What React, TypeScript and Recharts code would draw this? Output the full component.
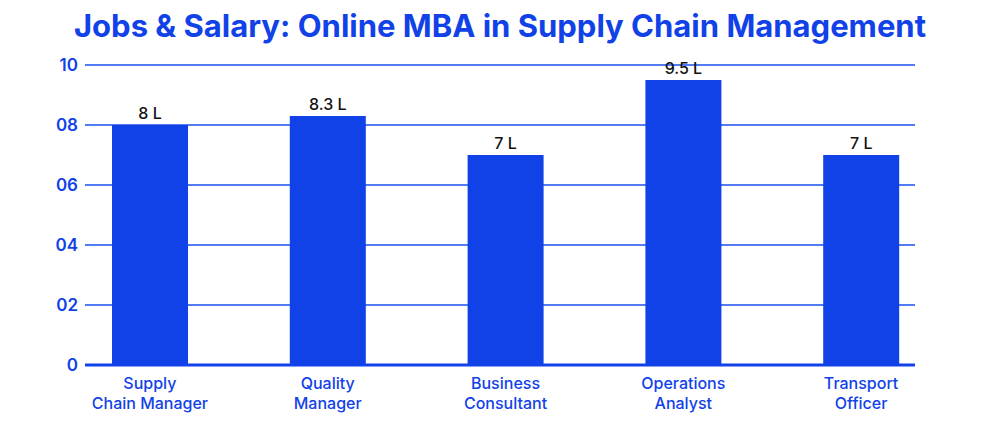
import { BarChart, Bar, CartesianGrid, XAxis, YAxis, LabelList } from 'recharts'

const jobs = ['Supply\nChain Manager', 'Quality\nManager', 'Business\nConsultant', 'Operations\nAnalyst', 'Transport\nOfficer']
const salary = [8, 8.3, 7, 9.5, 7]
const salaryLabels = ['8 L', '8.3 L', '7 L', '9.5 L', '7 L']
const yTicks = [0, 2, 4, 6, 8, 10]

const data = jobs.map((job, i) => ({ job, salary: salary[i], label: salaryLabels[i] }))

const BLUE = '#1142e8'
const GRID = '#1a4ff0'
const FONT = 'Inter, "Open Sans", sans-serif'

function JobTick({ x, y, payload }: any) {
  const lines = String(payload.value).split('\n')
  return (
    <text x={x} y={y} textAnchor="middle" fill={BLUE} fontSize={16} fontWeight={500} fontFamily={FONT}>
      {lines.map((l, i) => (
        <tspan key={i} x={x} dy={i === 0 ? 24 : 20}>{l}</tspan>
      ))}
    </text>
  )
}

export default function App() {
  return (
    <div style={{ position: 'absolute', left: 0, top: 0, width: 1000, height: 429, background: '#fff' }}>
      <div
        style={{
          position: 'absolute', left: 0, top: 7, width: 1000, textAlign: 'center',
          color: BLUE, fontFamily: FONT, fontWeight: 700, fontSize: 31,
        }}
      >
        Jobs &amp; Salary: Online MBA in Supply Chain Management
      </div>
      <BarChart width={1000} height={429} data={data} margin={{ top: 65, right: 85, bottom: 4, left: 8 }}>
        <CartesianGrid vertical={false} stroke={GRID} strokeWidth={1.3} />
        <XAxis
          dataKey="job"
          height={60}
          interval={0}
          tickLine={false}
          axisLine={{ stroke: BLUE, strokeWidth: 3 }}
          padding={{ left: -24, right: -35 }}
          tick={<JobTick />}
          tickSize={0}
          tickMargin={0}
        />
        <YAxis
          domain={[0, 10]}
          ticks={yTicks}
          width={77}
          axisLine={false}
          tickLine={false}
          tickSize={0}
          tickMargin={7}
          tickFormatter={(v: number) => (v === 0 ? '0' : String(v).padStart(2, '0'))}
          tick={{ fill: BLUE, fontSize: 17, fontWeight: 600, fontFamily: FONT }}
        />
        <Bar dataKey="salary" fill={BLUE} barSize={76} isAnimationActive={false}>
          <LabelList dataKey="label" position="top" offset={6} fill="#111" fontSize={16} fontWeight={500} fontFamily={FONT} />
        </Bar>
      </BarChart>
    </div>
  )
}
